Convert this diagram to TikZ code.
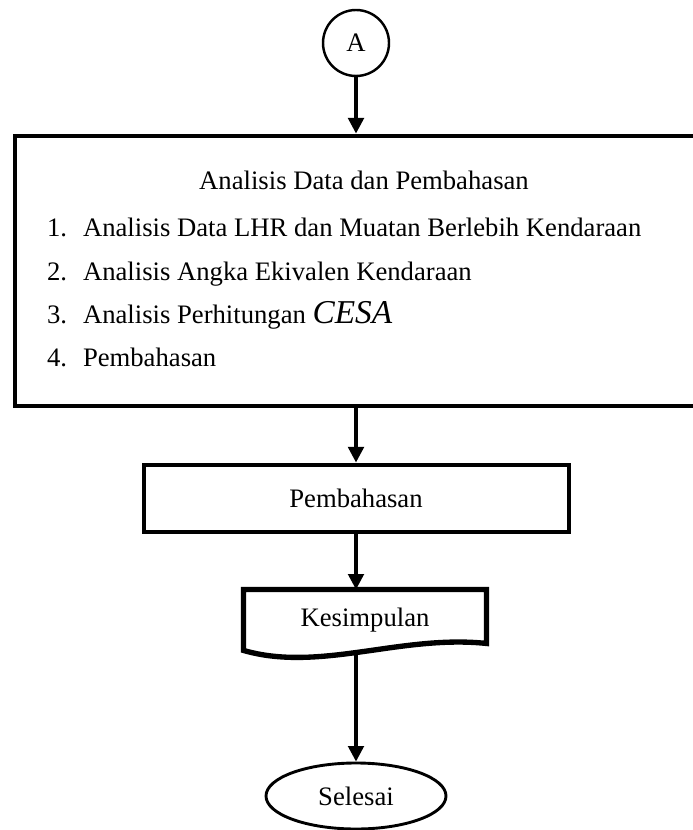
\documentclass[tikz,border=0pt]{standalone}
\usepackage{fontspec}
\setmainfont{Liberation Serif}
\usepackage{tikz}
\usetikzlibrary{positioning}
\usetikzlibrary{arrows.meta}
\usetikzlibrary{shapes}

\begin{document}
\begin{tikzpicture}[
	font = \fontsize{12}{14.4}\selectfont,
	conn/.style = { circle, draw, black, line width = 1.1pt, minimum size = 66*\oneUnit, inner sep=0pt },
	mainbox/.style = { rectangle, draw, black, line width = 2.2pt, minimum width = 682*\oneUnit, minimum height = 270*\oneUnit, inner sep=0pt },
	procbox/.style = { rectangle, draw, black, line width = 1.8pt, minimum width = 425*\oneUnit, minimum height = 67*\oneUnit, inner sep=0pt },
	docbox/.style = { rectangle, minimum width = 242*\oneUnit, minimum height = 60*\oneUnit, inner sep=0pt },
	docline/.style = { line width = 2.4pt, line join = miter },
	term/.style = { ellipse, draw, black, line width = 1.3pt, minimum width = 180*\oneUnit, minimum height = 66*\oneUnit, inner sep=0pt },
	item/.style = { anchor = base west, inner sep=0pt, outer sep=0pt },
	flow/.style = { -{Triangle[length=7pt, width=7pt]}, line width = 1.5pt },
	]
	\def\oneUnit{0.45pt}
	
	\useasboundingbox (0,0) rectangle (693*\oneUnit,-830*\oneUnit);
	
	\node[conn] (conA) at (356*\oneUnit,-43*\oneUnit) {A};
	
	\node[mainbox] (analisis) at (356*\oneUnit,-271*\oneUnit) {};
	\node[anchor = base, inner sep=0pt] (title) at (364*\oneUnit,-190*\oneUnit) {Analisis Data dan Pembahasan};
	
	\node[item] (num1) at (47*\oneUnit,-237*\oneUnit) {1.};
	\node[item] (num2) at (47*\oneUnit,-280*\oneUnit) {2.};
	\node[item] (num3) at (47*\oneUnit,-323*\oneUnit) {3.};
	\node[item] (num4) at (47*\oneUnit,-366*\oneUnit) {4.};
	
	\node[item] (item1) at (83*\oneUnit,-237*\oneUnit) {Analisis Data LHR dan Muatan Berlebih Kendaraan};
	\node[item] (item2) at (83*\oneUnit,-280*\oneUnit) {Analisis Angka Ekivalen Kendaraan};
	\node[item] (item3) at (83*\oneUnit,-323*\oneUnit) {Analisis Perhitungan \textit{\fontsize{15}{18}\selectfont CESA}};
	\node[item] (item4) at (83*\oneUnit,-366*\oneUnit) {Pembahasan};
	
	\node[procbox] (pemb) at (356*\oneUnit,-498*\oneUnit) {Pembahasan};
	
	\node[docbox] (kes) at (365*\oneUnit,-620*\oneUnit) {Kesimpulan};
	\draw[docline] (kes.south west) -- (kes.north west) -- (kes.north east) -- ([yshift=7*\oneUnit]kes.south east)
		.. controls +(-86*\oneUnit,9*\oneUnit) and +(76*\oneUnit,-22*\oneUnit) .. (kes.south west) -- cycle;
	
	\node[term] (selesai) at (356*\oneUnit,-796*\oneUnit) {Selesai};
	
	\path (conA) edge [flow] (analisis);
	\path (analisis) edge [flow] (pemb);
	\path (pemb) edge [flow] (pemb |- kes.north);
	\path (kes.south -| selesai) edge [flow] (selesai);
	
\end{tikzpicture}
\end{document}
